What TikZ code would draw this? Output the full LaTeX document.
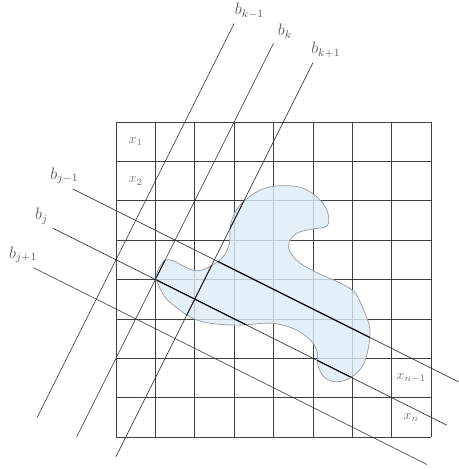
\documentclass[tikz,border=0pt]{standalone}
\usetikzlibrary{arrows}
\definecolor{objectblue}{HTML}{DCEBF7}
\newcommand{\objectpath}{plot[smooth cycle, tension=0.6] coordinates {
  (1.03,4.02) (1.24,3.56) (1.55,3.28) (1.88,3.05) (2.31,2.90) (3.07,2.84)
  (3.84,2.89) (4.24,2.84) (4.67,2.67) (4.98,2.41) (5.11,2.15) (5.14,1.78)
  (5.31,1.50) (5.61,1.40) (5.94,1.50) (6.25,1.78) (6.40,2.21) (6.45,2.72)
  (6.32,3.15) (6.07,3.66) (5.69,3.91) (5.11,4.17) (4.67,4.42) (4.42,4.70)
  (4.40,4.95) (4.60,5.18) (4.98,5.28) (5.36,5.36) (5.38,5.69) (5.18,6.02)
  (4.75,6.32) (4.17,6.38) (3.66,6.27) (3.15,5.89) (2.92,5.44) (2.87,4.88)
  (2.64,4.50) (2.05,4.22) (1.37,4.50) (1.14,4.37)}}
\begin{document}
\begin{tikzpicture}[
        grid line/.style={draw=black!75, line width=0.45pt},
        object/.style={fill=objectblue, fill opacity=0.8, draw=black!40, line width=0.5pt},
        ray/.style={draw=black!80, line width=0.45pt},
        ray inside/.style={draw=black!90, line width=0.9pt},
        ray label/.style={text=black!65, font=\large, inner sep=0pt},
        cell label/.style={text=black!55, font=\normalsize, inner sep=0pt}
        ]
        \useasboundingbox (-2.946,-0.839) rectangle (8.711,11.098);
        
        \draw[grid line] (0,0) grid (8,8);
        \path[object] \objectpath;
        
        \node[cell label] (x1) at (0.5,7.5) {$x_1$};
        \node[cell label] (x2) at (0.5,6.5) {$x_2$};
        \node[cell label] (xn1) at (7.5,1.5) {$x_{n-1}$};
        \node[cell label] (xn) at (7.5,0.5) {$x_n$};
        
        \coordinate (bkm bot) at (-2,0.5);
        \coordinate (bkm top) at (3,10.5);
        \coordinate (bk bot) at (-1,0);
        \coordinate (bk top) at (4,10);
        \coordinate (bkp bot) at (0,-0.5);
        \coordinate (bkp top) at (5,9.5);
        \coordinate (bjm start) at (-1.1,6.3);
        \coordinate (bjm end) at (8.7,1.4);
        \coordinate (bj start) at (-1.6,5.3);
        \coordinate (bj end) at (8.4,0.3);
        \coordinate (bjp start) at (-2.1,4.3);
        \coordinate (bjp end) at (7.9,-0.7);
        
        \draw[ray] (bkm bot) -- (bkm top);
        \draw[ray] (bk bot) -- (bk top);
        \draw[ray] (bkp bot) -- (bkp top);
        \draw[ray] (bjm start) -- (bjm end);
        \draw[ray] (bj start) -- (bj end);
        \draw[ray] (bjp start) -- (bjp end);
        
        \begin{scope}
        \clip \objectpath;
        \draw[ray inside, line width=0.7pt] (bk bot) -- (bk top);
        \draw[ray inside, line width=0.7pt] (bkp bot) -- (bkp top);
        \draw[ray inside] (bjm start) -- (bjm end);
        \draw[ray inside] (bj start) -- (bj end);
        \end{scope}
        
        \node[ray label] (lbkm) at (3.39,10.82) {$b_{k-1}$};
        \node[ray label] (lbk) at (4.29,10.31) {$b_k$};
        \node[ray label] (lbkp) at (5.33,9.83) {$b_{k+1}$};
        \node[ray label] (lbjm) at (-1.31,6.63) {$b_{j-1}$};
        \node[ray label] (lbj) at (-1.89,5.61) {$b_j$};
        \node[ray label] (lbjp) at (-2.36,4.62) {$b_{j+1}$};
        
\end{tikzpicture}
\end{document}
